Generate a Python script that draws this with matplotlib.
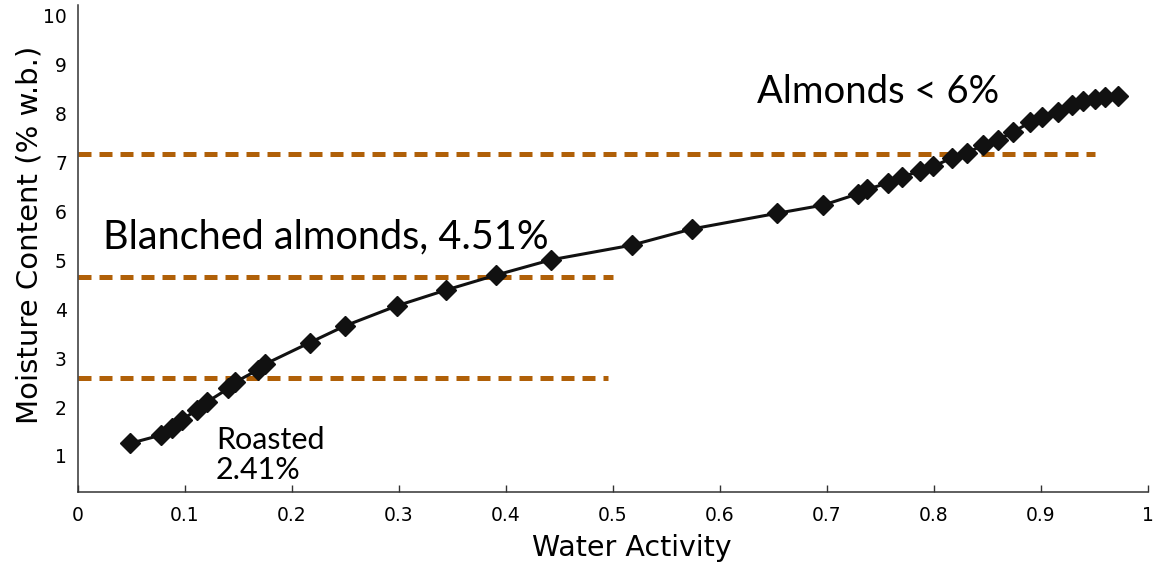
import matplotlib
matplotlib.use("Agg")
import matplotlib.pyplot as plt

# Data (water activity vs moisture content)
aw = [0.049, 0.078, 0.088, 0.097, 0.111, 0.121, 0.1405, 0.147, 0.168, 0.175,
      0.2168, 0.2495, 0.298, 0.3436, 0.391, 0.442, 0.5175, 0.5735, 0.653, 0.6966,
      0.729, 0.737, 0.757, 0.770, 0.787, 0.799, 0.8165, 0.8305, 0.846, 0.860,
      0.874, 0.890, 0.9006, 0.916, 0.929, 0.9396, 0.950, 0.960, 0.972]
mc = [1.26, 1.43, 1.57, 1.74, 1.94, 2.11, 2.38, 2.51, 2.76, 2.88,
      3.32, 3.66, 4.07, 4.39, 4.70, 5.01, 5.31, 5.64, 5.96, 6.13,
      6.36, 6.45, 6.58, 6.70, 6.83, 6.92, 7.09, 7.19, 7.36, 7.46,
      7.63, 7.82, 7.94, 8.04, 8.18, 8.25, 8.30, 8.34, 8.35]

ref_levels = [7.18, 4.65, 2.59]
ref_xmax = [0.95, 0.50, 0.495]

x_ticks = [0, 0.1, 0.2, 0.3, 0.4, 0.5, 0.6, 0.7, 0.8, 0.9, 1]
x_tick_labels = ["0", "0.1", "0.2", "0.3", "0.4", "0.5", "0.6", "0.7", "0.8", "0.9", "1"]
y_ticks = [1, 2, 3, 4, 5, 6, 7, 8, 9, 10]
y_tick_labels = ["1", "2", "3", "4", "5", "6", "7", "8", "9", "10"]

fig = plt.figure(figsize=(11.57, 5.66), dpi=100)
ax = fig.add_axes([78/1157, 1 - 491.7/566, (1148-78)/1157, (491.7-5)/566])

dash_color = "#B06008"
for lvl, xm in zip(ref_levels, ref_xmax):
    ax.plot([0, xm], [lvl, lvl], color=dash_color, lw=3.6, dashes=(2.6, 1.6),
            solid_capstyle="butt", dash_capstyle="butt", zorder=2)

ax.plot(aw, mc, color="#111111", lw=2.2, marker="D", markersize=10,
        markerfacecolor="#111111", markeredgecolor="#111111", zorder=3)

ax.set_xlim(0, 1)
ax.set_ylim(0.27, 10.22)
ax.set_xticks(x_ticks)
ax.set_xticklabels(x_tick_labels)
ax.set_yticks(y_ticks)
ax.set_yticklabels(y_tick_labels)

for s in ["top", "right"]:
    ax.spines[s].set_visible(False)
for s in ["left", "bottom"]:
    ax.spines[s].set_color("#333333")
    ax.spines[s].set_linewidth(1.1)

ax.tick_params(axis="x", direction="in", length=5, width=1, color="#333333",
               pad=10, labelsize=13.5)
ax.tick_params(axis="y", length=0, pad=8, labelsize=13.5)

ax.set_xlabel("Water Activity", fontsize=20.5)
ax.set_ylabel("Moisture Content (% w.b.)", fontsize=21)
ax.xaxis.set_label_coords((632 - 78) / 1070, -(548 - 491.7) / 486.7)
ax.yaxis.set_label_coords(-(78 - 30) / 1070, (491.7 - 235) / 486.7)
ax.xaxis.label.set_va("center")
ax.yaxis.label.set_va("center")

ann_font = "Lato"
ax.text(0.6346, 8.44, "Almonds < 6%", fontsize=27.5, family=ann_font, va="center", ha="left")
ax.text(0.0234, 5.48, "Blanched almonds, 4.51%", fontsize=28.5, family=ann_font, va="center", ha="left")
ax.text(0.129, 1.33, "Roasted", fontsize=22, family=ann_font, va="center", ha="left")
ax.text(0.129, 0.71, "2.41%", fontsize=22, family=ann_font, va="center", ha="left")

fig.savefig("out.png", dpi=100)
